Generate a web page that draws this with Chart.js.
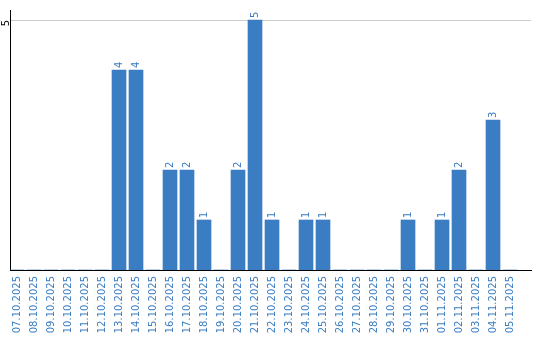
<!DOCTYPE html>
<html><head><meta charset="utf-8">
<script src="https://cdn.jsdelivr.net/npm/chart.js@4"></script>
<style>html,body{margin:0;padding:0;background:#fff}#w{width:540px;height:340px}</style>
</head><body><div id="w"><canvas id="c"></canvas></div>
<script>
const categories = ["07.10.2025","08.10.2025","09.10.2025","10.10.2025","11.10.2025","12.10.2025","13.10.2025","14.10.2025","15.10.2025","16.10.2025","17.10.2025","18.10.2025","19.10.2025","20.10.2025","21.10.2025","22.10.2025","23.10.2025","24.10.2025","25.10.2025","26.10.2025","27.10.2025","28.10.2025","29.10.2025","30.10.2025","31.10.2025","01.11.2025","02.11.2025","03.11.2025","04.11.2025","05.11.2025"];
const counts = [0,0,0,0,0,0,4,4,0,2,2,1,0,2,5,1,0,1,1,0,0,0,0,1,0,1,2,0,3,0];
const yTicks = [5];

const BLUE = '#3a7dc2';
const FONT = 'DejaVu Sans';

const labelPlugin = {
  id: 'vals',
  afterDatasetsDraw(chart) {
    const ctx = chart.ctx;
    const meta = chart.getDatasetMeta(0);
    ctx.save();
    ctx.fillStyle = BLUE;
    ctx.font = '10px "' + FONT + '"';
    ctx.textAlign = 'left';
    ctx.textBaseline = 'middle';
    meta.data.forEach((bar, i) => {
      const v = counts[i];
      if (!v) return;
      ctx.save();
      ctx.translate(bar.x, bar.y - 2);
      ctx.rotate(-Math.PI / 2);
      ctx.fillText(String(v), 0, 0);
      ctx.restore();
    });
    ctx.restore();
  }
};

new Chart(document.getElementById('c'), {
  type: 'bar',
  data: {
    datasets: [{
      data: counts.map((v, i) => ({x: i, y: v})),
      backgroundColor: BLUE,
      borderWidth: 0,
      barThickness: 14
    }]
  },
  options: {
    responsive: true,
    maintainAspectRatio: false,
    animation: false,
    layout: {padding: {top: 10, right: 9, left: 0, bottom: 0}},
    plugins: {legend: {display: false}, tooltip: {enabled: false}},
    scales: {
      x: {
        type: 'linear',
        offset: false,
        min: -0.412,
        max: 30.235,
        grid: {display: false, drawTicks: false},
        border: {display: true, color: '#000', width: 1},
        afterBuildTicks: axis => { axis.ticks = categories.map((c, i) => ({value: i})); },
        afterFit: axis => { axis.height = 70; },
        ticks: {
          autoSkip: false,
          minRotation: 90, maxRotation: 90,
          padding: 6,
          color: BLUE,
          font: {family: FONT, size: 10},
          callback: v => categories[v] ?? ''
        }
      },
      y: {
        min: 0,
        max: 5.2,
        grid: {color: '#cccccc', drawTicks: false, lineWidth: 1},
        border: {display: true, color: '#000', width: 1},
        afterBuildTicks: axis => { axis.ticks = yTicks.map(v => ({value: v})); },
        afterFit: axis => { axis.width = 10; },
        ticks: {
          minRotation: 90, maxRotation: 90,
          padding: 4,
          color: '#000',
          font: {family: FONT, size: 10}
        }
      }
    }
  },
  plugins: [labelPlugin]
});
</script>
</body></html>
